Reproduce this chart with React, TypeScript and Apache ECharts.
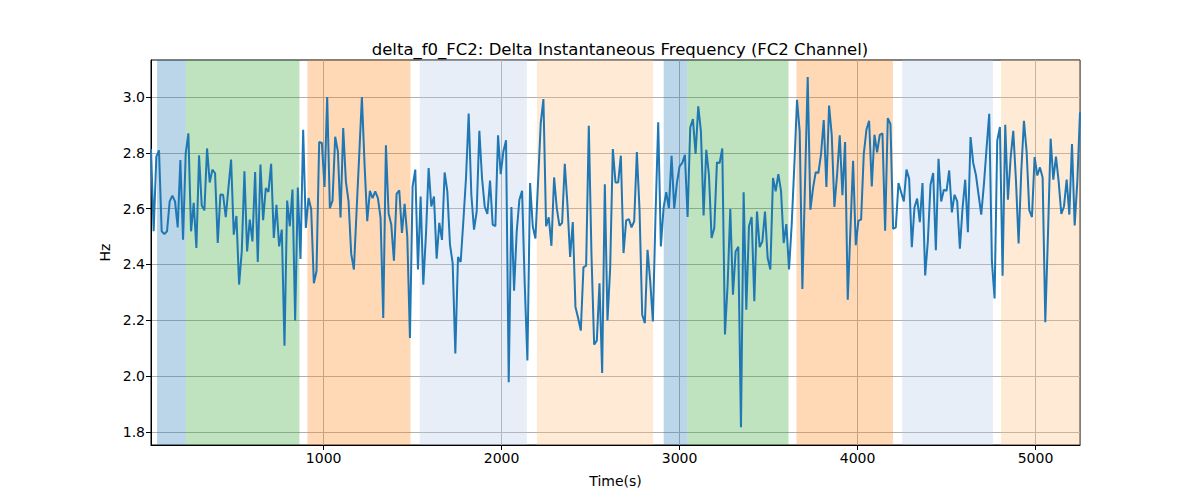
import React, { useEffect, useRef } from "react";
import * as echarts from "echarts";

const TITLE = "delta_f0_FC2: Delta Instantaneous Frequency (FC2 Channel)";
const T0 = 30;
const STEP = 15;

const hz: number[] = [
  2.814, 2.519, 2.787, 2.809, 2.519, 2.509, 2.519, 2.626, 2.647, 2.626,
  2.533, 2.774, 2.489, 2.798, 2.870, 2.519, 2.621, 2.459, 2.791, 2.612,
  2.594, 2.816, 2.694, 2.740, 2.727, 2.477, 2.651, 2.650, 2.570, 2.674,
  2.776, 2.507, 2.574, 2.328, 2.447, 2.734, 2.447, 2.561, 2.483, 2.731,
  2.409, 2.758, 2.559, 2.674, 2.660, 2.761, 2.495, 2.614, 2.465, 2.525,
  2.109, 2.629, 2.537, 2.669, 2.199, 2.676, 2.420, 2.883, 2.531, 2.638,
  2.599, 2.333, 2.376, 2.839, 2.836, 2.678, 3.000, 2.602, 2.629, 2.858,
  2.805, 2.569, 2.889, 2.698, 2.626, 2.438, 2.382, 2.590, 2.793, 3.000,
  2.758, 2.555,
  2.664, 2.638, 2.662, 2.638, 2.567, 2.208, 2.827, 2.584, 2.543, 2.414,
  2.653, 2.666, 2.513, 2.617, 2.501, 2.137, 2.680, 2.740, 2.382, 2.644,
  2.328, 2.507, 2.746, 2.608, 2.644, 2.421, 2.549, 2.488, 2.730, 2.662,
  2.471, 2.405, 2.081, 2.427, 2.409, 2.555, 2.710, 2.941, 2.650, 2.525,
  2.590, 2.879, 2.710, 2.608, 2.581, 2.701, 2.543, 2.537, 2.863, 2.724,
  2.805, 2.845, 1.978, 2.606, 2.306, 2.519, 2.632, 2.664, 2.328, 2.056,
  2.692, 2.537, 2.493, 2.698, 2.907, 2.993, 2.537, 2.569, 2.467, 2.712,
  2.602, 2.539, 2.549, 2.761, 2.614, 2.427, 2.552, 2.248, 2.208, 2.163,
  2.390, 2.396, 2.897, 2.435, 2.113, 2.127, 2.333, 2.011, 2.688, 2.199,
  2.387, 2.814, 2.694, 2.694, 2.790, 2.441, 2.558, 2.563, 2.533, 2.555,
  2.803, 2.596, 2.220, 2.190, 2.453, 2.340, 2.196, 2.579, 2.910, 2.465,
  2.602, 2.659, 2.602, 2.790, 2.600, 2.692, 2.752, 2.764, 2.793, 2.570,
  2.891, 2.921, 2.796, 2.967, 2.877, 2.576, 2.811, 2.722, 2.495, 2.531,
  2.766, 2.764, 2.816, 2.149, 2.328, 2.599, 2.292, 2.447, 2.464, 1.817,
  2.659, 2.238, 2.537, 2.570, 2.268, 2.590, 2.462, 2.483, 2.590, 2.423,
  2.382, 2.710, 2.662, 2.724, 2.664, 2.477, 2.545, 2.382, 2.543, 2.758,
  2.990, 2.877, 2.312, 2.692, 3.072, 2.596, 2.674, 2.731, 2.728, 2.796,
  2.918, 2.678, 2.970, 2.865, 2.606, 2.722,
  2.863, 2.648, 2.839, 2.274, 2.525, 2.772, 2.469, 2.557, 2.561, 2.796,
  2.883, 2.915, 2.680, 2.865, 2.802, 2.865, 2.870, 2.521, 2.925, 2.903,
  2.528, 2.533, 2.692, 2.659, 2.626, 2.740, 2.707, 2.462, 2.605, 2.636,
  2.552, 2.692, 2.361, 2.483, 2.686, 2.728, 2.451, 2.779, 2.626, 2.668,
  2.664, 2.737, 2.587, 2.650, 2.626, 2.457, 2.602, 2.704, 2.516, 2.857,
  2.764, 2.722, 2.650, 2.579, 2.686, 2.817, 2.940, 2.411, 2.278, 2.844,
  2.893, 2.360, 2.901, 2.632, 2.781, 2.879, 2.704, 2.475, 2.734, 2.915,
  2.805, 2.595, 2.570, 2.785, 2.719, 2.748, 2.712, 2.193, 2.507, 2.851,
  2.704, 2.787, 2.698, 2.581, 2.608, 2.704, 2.579, 2.832, 2.540, 2.698,
  2.946,
];

const spanStarts: number[] = [64, 226, 909, 1540, 2198, 2911, 3044, 3657, 4251, 4806];
const spanEnds: number[] = [226, 864, 1488, 2142, 2851, 3044, 3612, 4199, 4761, 5260];
const spanColors: string[] = [
  "rgba(31,119,180,0.3)",
  "rgba(44,160,44,0.3)",
  "rgba(255,127,14,0.3)",
  "rgba(174,199,232,0.3)",
  "rgba(255,187,120,0.3)",
  "rgba(31,119,180,0.3)",
  "rgba(44,160,44,0.3)",
  "rgba(255,127,14,0.3)",
  "rgba(174,199,232,0.3)",
  "rgba(255,187,120,0.3)",
];

const xTicks: number[] = [1000, 2000, 3000, 4000, 5000];
const yTicks: number[] = [1.8, 2.0, 2.2, 2.4, 2.6, 2.8, 3.0];
const X_MIN = 30;
const X_MAX = T0 + STEP * (hz.length - 1);
const Y_MIN = 1.753;
const Y_MAX = 3.133;

const FONT = "DejaVu Sans";

export default function App() {
  const ref = useRef<HTMLDivElement>(null);
  useEffect(() => {
    document.body.style.margin = "0";
    if (!ref.current) return;
    const chart = echarts.init(ref.current, undefined, { renderer: "svg" });
    const data = hz.map((v, i) => [T0 + STEP * i, v]);
    const areas = spanStarts.map((s, i) => [
      { xAxis: s, itemStyle: { color: spanColors[i] } },
      { xAxis: Math.min(spanEnds[i], X_MAX) },
    ]);
    chart.setOption({
      animation: false,
      backgroundColor: "#fff",
      title: {
        text: TITLE,
        left: 615,
        textAlign: "center",
        top: 36,
        textStyle: { fontFamily: FONT, fontSize: 16.5, fontWeight: "normal", color: "#000" },
      },
      grid: {
        left: 151,
        right: 120,
        top: 60,
        bottom: 55,
        show: true,
        borderColor: "#000",
        borderWidth: 1,
        backgroundColor: "transparent",
      },
      xAxis: {
        type: "value",
        min: X_MIN,
        max: X_MAX,
        name: "Time(s)",
        nameLocation: "middle",
        nameGap: 29,
        nameTextStyle: { fontFamily: FONT, fontSize: 14, color: "#000" },
        axisLine: { show: true, lineStyle: { color: "#000", width: 1 } },
        axisTick: { show: true, length: 5, lineStyle: { color: "#000", width: 1 }, customValues: xTicks },
        axisLabel: {
          customValues: xTicks,
          fontFamily: FONT,
          fontSize: 14,
          color: "#000",
          margin: 6,
          formatter: (v: number) => String(v),
        },
        splitLine: { show: true, lineStyle: { color: "#b0b0b0", width: 1 } },
      },
      yAxis: {
        type: "value",
        min: Y_MIN,
        max: Y_MAX,
        name: "Hz",
        nameLocation: "middle",
        nameGap: 38,
        nameTextStyle: { fontFamily: FONT, fontSize: 14, color: "#000" },
        axisLine: { show: true, lineStyle: { color: "#000", width: 1 } },
        axisTick: { show: true, length: 5, lineStyle: { color: "#000", width: 1 }, customValues: yTicks },
        axisLabel: {
          customValues: yTicks,
          fontFamily: FONT,
          fontSize: 14,
          color: "#000",
          margin: 6,
          formatter: (v: number) => v.toFixed(1),
        },
        splitLine: { show: true, lineStyle: { color: "#b0b0b0", width: 1 } },
      },
      series: [
        {
          type: "line",
          data,
          showSymbol: false,
          symbol: "none",
          lineStyle: { color: "#1f77b4", width: 2 },
          markArea: { silent: true, data: areas },
        },
      ],
    });
    return () => chart.dispose();
  }, []);
  return <div ref={ref} style={{ width: 1200, height: 500 }} />;
}
